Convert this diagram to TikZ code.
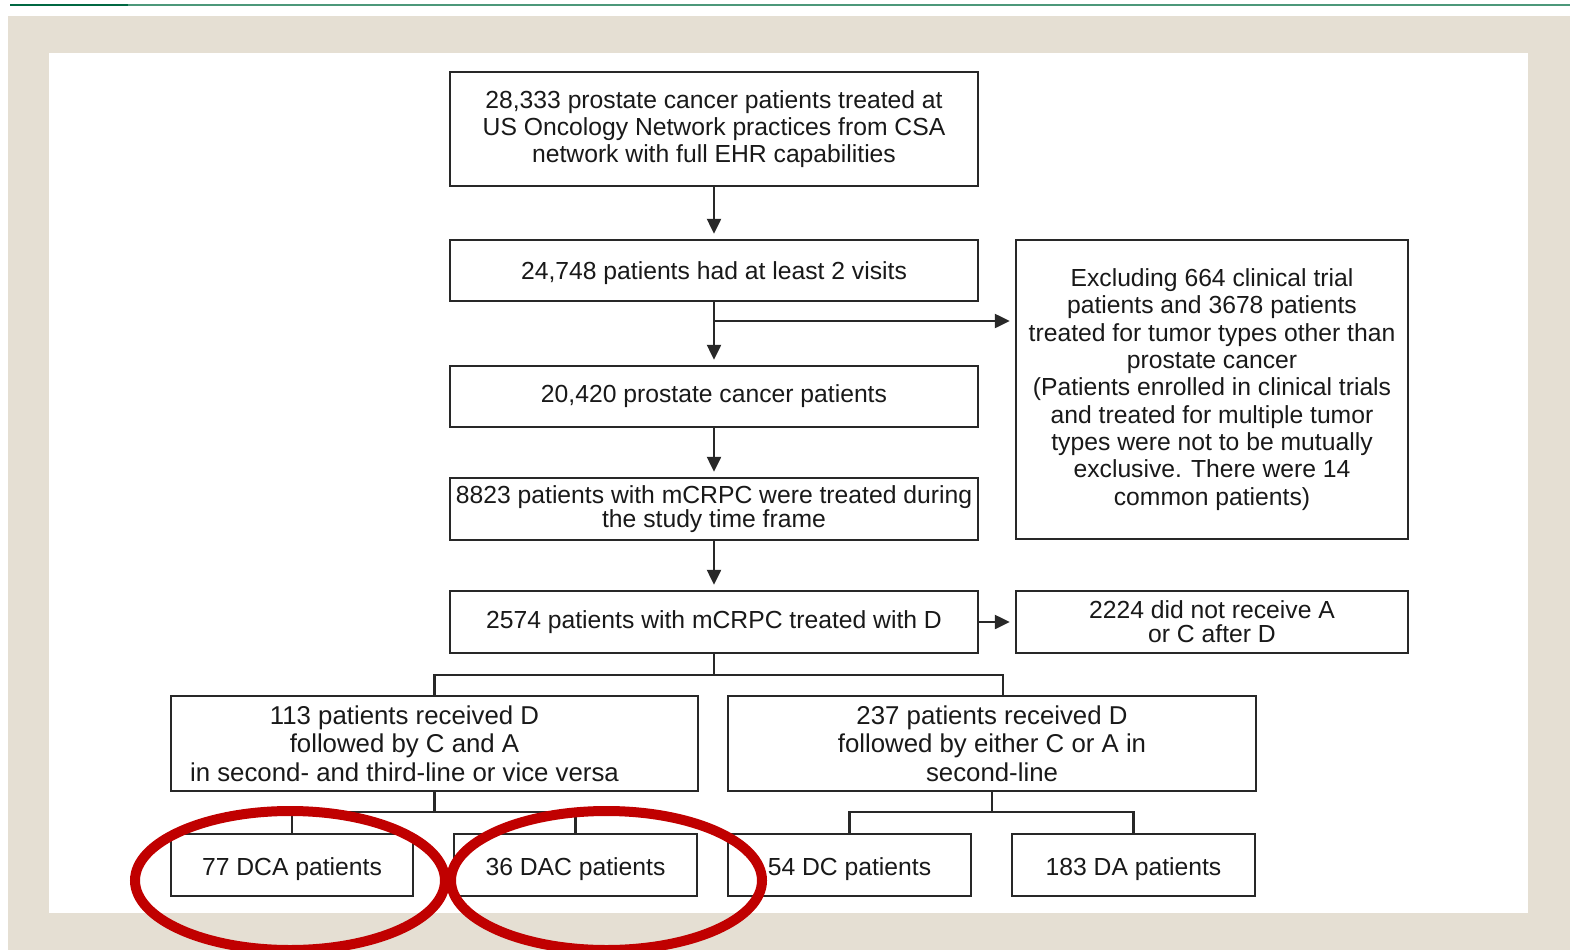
\documentclass[tikz,border=0pt]{standalone}
\usepackage{fontspec}
\setmainfont{Liberation Sans}
\usetikzlibrary{arrows.meta}
\definecolor{frame}{RGB}{229,223,211}
\definecolor{rulegreen}{RGB}{76,152,122}
\definecolor{rulegreendark}{RGB}{0,104,66}
\definecolor{ink}{RGB}{25,25,25}
\definecolor{boxline}{RGB}{40,40,40}
\definecolor{markred}{RGB}{192,0,0}
% lower a single line inside its box without changing the box size
\newcommand{\lowered}[2]{\raisebox{-#1}[\height][\depth]{#2}}

\begin{document}
\begin{tikzpicture}[x=1pt,y=-1pt,
  box/.style={draw=boxline, line width=2.5pt, fill=white, text=ink, align=center,
    inner sep=0pt, font=\fontsize{24.7}{27}\selectfont},
  boxtext/.style={text=ink, align=center, inner sep=0pt,
    font=\fontsize{25.8}{28.6}\selectfont},
  flow/.style={draw=boxline, line width=2.5pt, shorten >=5pt,
    -{Triangle[length=15pt,width=14pt]}},
  link/.style={draw=boxline, line width=2.5pt},
  ring/.style={draw=markred, line width=10pt}]

% page, rule and frame
\useasboundingbox (0,0) rectangle (1585,950);
\fill[white] (0,0) rectangle (1585,950);
\draw[rulegreen, line width=2.5pt] (10,5) -- (1570,5);
\draw[rulegreendark, line width=2.5pt] (10,5) -- (128,5);
\fill[frame] (8,16) rectangle (1570,950);
\fill[white] (49,53) rectangle (1528,913);

% main column
\node[box, minimum width=528pt, minimum height=114pt] (n1) at (714,129)
  {28,333 prostate cancer patients treated at\\US Oncology Network practices from CSA\\network with full EHR capabilities};
\node[box, minimum width=528pt, minimum height=61pt] (n2) at (714,270.5)
  {\lowered{3pt}{24,748 patients had at least 2 visits}};
\node[box, minimum width=528pt, minimum height=61pt] (n3) at (714,396.5)
  {20,420 prostate cancer patients};
\node[box, minimum width=528pt, minimum height=62pt, font=\fontsize{24.7}{22.5}\selectfont] (n4) at (714,509)
  {8823 patients with mCRPC were treated during\\the study time frame};
\node[box, minimum width=528pt, minimum height=62pt] (n5) at (714,622)
  {2574 patients with mCRPC treated with D};

% side boxes
\node[box, minimum width=392pt, minimum height=299pt, font=\fontsize{24.7}{27.3}\selectfont] (nx) at (1212,389.5)
  {Excluding 664 clinical trial\\patients and 3678 patients\\treated for tumor types other than\\prostate cancer\\(Patients enrolled in clinical trials\\and treated for multiple tumor\\types were not to be mutually\\exclusive. There were 14\\common patients)};
\node[box, minimum width=392pt, minimum height=62pt, font=\fontsize{24.7}{24.3}\selectfont] (n6) at (1212,622)
  {2224 did not receive A\\or C after D};

% treatment groups
\node[box, minimum width=527pt, minimum height=95pt] (n113) at (434.5,743.5) {};
\node[boxtext] (n113t) at ([xshift=-30pt]n113.center)
  {113 patients received D\\followed by C and A\\in second- and third-line or vice versa};
\node[box, minimum width=528pt, minimum height=95pt] (n237) at (992,743.5) {};
\node[boxtext] (n237t) at (n237.center)
  {237 patients received D\\followed by either C or A in\\second-line};

% sequences
\node[box, minimum width=242pt, minimum height=62pt] (dca) at (292,865) {\lowered{4pt}{77 DCA patients}};
\node[box, minimum width=243pt, minimum height=62pt] (dac) at (575.5,865) {\lowered{4pt}{36 DAC patients}};
\node[box, minimum width=243pt, minimum height=62pt] (dc) at (849.5,865) {\lowered{4pt}{54 DC patients}};
\node[box, minimum width=243pt, minimum height=62pt] (da) at (1133.5,865) {\lowered{4pt}{183 DA patients}};

% arrows down the main column
\draw[flow] (n1.south) -- (n1.south |- n2.north);
\coordinate (b2) at (n2.south |- 0,321);
\draw[link] (n2.south) -- (b2);
\draw[flow] (b2) -- (b2 |- n3.north);
\draw[flow] (b2) -- (b2 -| nx.west);
\draw[flow] (n3.south) -- (n3.south |- n4.north);
\draw[flow] (n4.south) -- (n4.south |- n5.north);
\draw[flow] (n5.east) -- (n6.west);

% split into treatment groups
\coordinate (t1) at (n5.south |- 0,675);
\draw[link] (n5.south) -- (t1);
\draw[link] (n113.north) |- (t1) -| ([xshift=11pt]n237.north);

\coordinate (t2) at (n113.south |- 0,812);
\draw[link] (n113.south) -- (t2);
\draw[link] (dca.north) |- (t2) -| (dac.north);

\coordinate (t3) at (n237.south |- 0,812);
\draw[link] (n237.south) -- (t3);
\draw[link] (dc.north) |- (t3) -| (da.north);

% highlight rings
\draw[ring] (290,880.5) ellipse [x radius=155pt, y radius=69.5pt];
\draw[ring] (606.5,880.5) ellipse [x radius=155.5pt, y radius=69.5pt];
\end{tikzpicture}
\end{document}
